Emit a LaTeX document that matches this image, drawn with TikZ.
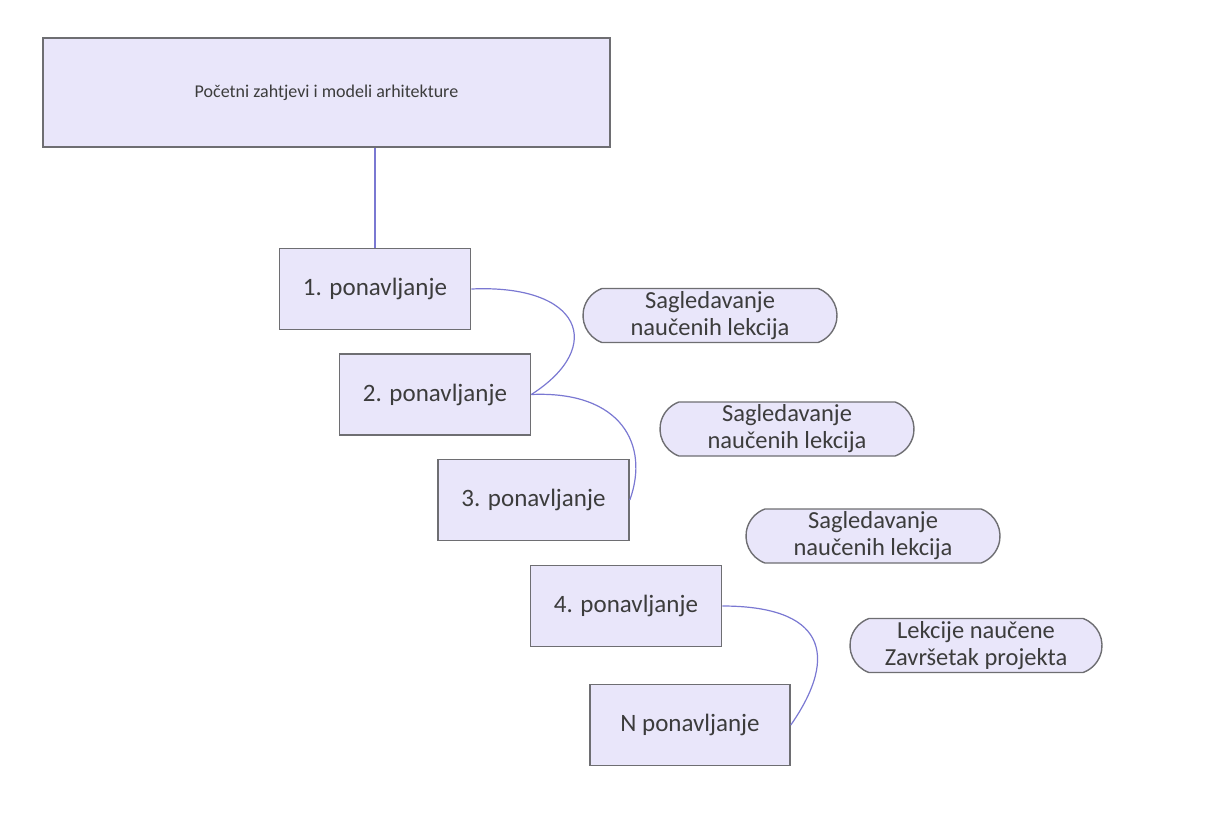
\documentclass[tikz,border=0pt]{standalone}
\usepackage{fontspec}
\setmainfont{Carlito}
\usetikzlibrary{shapes.misc}

\definecolor{boxfill}{HTML}{E9E6FA}
\definecolor{boxline}{HTML}{6E6E72}
\definecolor{linkcol}{HTML}{7A78D2}
\definecolor{txtcol}{HTML}{3C3C3C}

\begin{document}
\begin{tikzpicture}[x=1pt,y=-1pt,
  iter/.style={draw=boxline,fill=boxfill,line width=1.6pt,text=txtcol,
    minimum width=191pt,minimum height=81pt,inner sep=0pt,
    font=\fontsize{25}{28}\selectfont},
  lesson/.style={draw=boxline,fill=boxfill,line width=1.4pt,text=txtcol,
    rounded rectangle,rounded rectangle arc length=140,
    minimum width=254pt,minimum height=54pt,inner sep=0pt,align=center,
    font=\fontsize{24.5}{27}\selectfont},
  link/.style={draw=linkcol,line width=1.2pt}]
\useasboundingbox (0,0) rectangle (1231,812);

\node[draw=boxline,fill=boxfill,line width=1.6pt,text=txtcol,
  minimum width=567pt,minimum height=109pt,inner sep=0pt,
  font=\fontsize{18}{21}\selectfont] (top) at (326.5,92.5)
  {Početni zahtjevi i modeli arhitekture};

\node[iter] (it1) at (375,289) {1. ponavljanje};
\node[iter] (it2) at (435,394.5) {2. ponavljanje};
\node[iter] (it3) at (533.5,500) {3. ponavljanje};
\node[iter] (it4) at (626,606) {4. ponavljanje};
\node[iter,minimum width=200pt] (itN) at (690,725) {N ponavljanje};

\node[lesson] (l1) at (710,315.5) {Sagledavanje\\naučenih lekcija};
\node[lesson] (l2) at (787,429) {Sagledavanje\\naučenih lekcija};
\node[lesson] (l3) at (873,536) {Sagledavanje\\naučenih lekcija};
\node[lesson,minimum width=252pt] (l4) at (976,645.5) {Lekcije naučene\\Završetak projekta};

% veze
\draw[link] (it1.north) -- (it1.north |- top.south);
\draw[link] (it1.east) .. controls +(110,-5) and +(75,-48) .. (it2.east);
\draw[link] (it2.east) .. controls +(90,-4) and +(20,-55) .. (it3.east);
\draw[link] (it4.east) .. controls +(100,0) and +(50,-72) .. (itN.east);

\end{tikzpicture}
\end{document}
